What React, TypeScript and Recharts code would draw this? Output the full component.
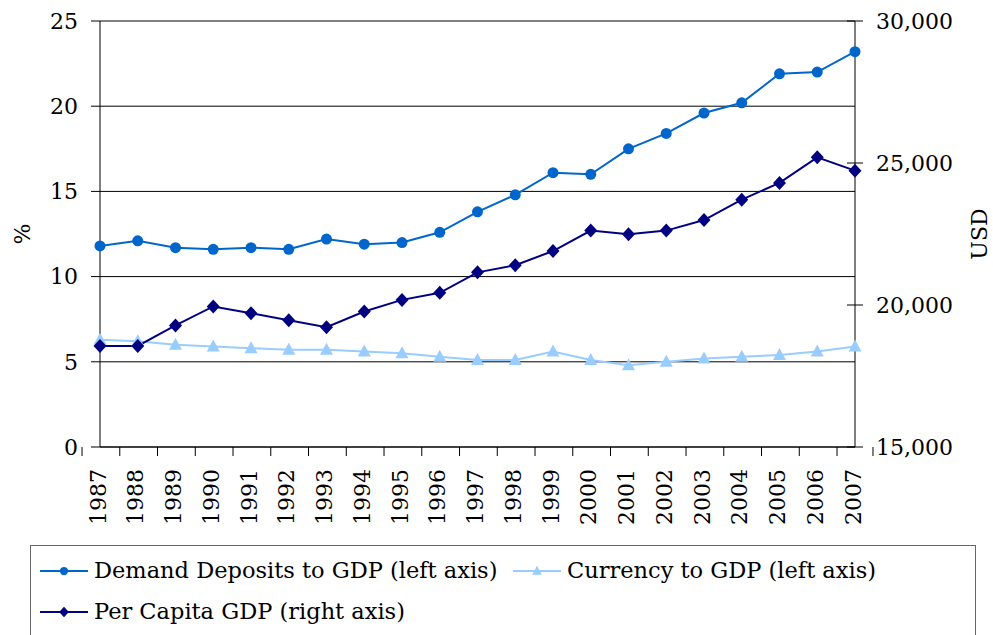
import { ComposedChart, Line, XAxis, YAxis, CartesianGrid } from "recharts";

const years = [
  "1987", "1988", "1989", "1990", "1991", "1992", "1993", "1994", "1995", "1996", "1997",
  "1998", "1999", "2000", "2001", "2002", "2003", "2004", "2005", "2006", "2007",
];
// % of GDP, left axis
const demandDeposits = [
  11.8, 12.1, 11.7, 11.6, 11.7, 11.6, 12.2, 11.9, 12.0, 12.6, 13.8,
  14.8, 16.1, 16.0, 17.5, 18.4, 19.6, 20.2, 21.9, 22.0, 23.2,
];
const currency = [
  6.3, 6.2, 6.0, 5.9, 5.8, 5.7, 5.7, 5.6, 5.5, 5.3, 5.1,
  5.1, 5.6, 5.1, 4.8, 5.0, 5.2, 5.3, 5.4, 5.6, 5.9,
];
// USD, right axis
const perCapitaGdp = [
  18560, 18560, 19280, 19950, 19710, 19460, 19220, 19770, 20180, 20430, 21150,
  21400, 21900, 22620, 22490, 22620, 22990, 23710, 24300, 25200, 24730,
];
const leftTicks = [0, 5, 10, 15, 20, 25];
const rightTicks = [15000, 20000, 25000, 30000];

const data = years.map((year, i) => ({
  year,
  demand: demandDeposits[i],
  currency: currency[i],
  gdp: perCapitaGdp[i],
}));

const FONT = "'DejaVu Serif', serif";
const FS = 22;
const LFS = 22.5;
const BAND = (855 - 100) / years.length;

const series = [
  { key: "demand", name: "Demand Deposits to GDP (left axis)", color: "#0066CC", shape: "circle" },
  { key: "currency", name: "Currency to GDP (left axis)", color: "#99CCFF", shape: "triangle" },
  { key: "gdp", name: "Per Capita GDP (right axis)", color: "#000080", shape: "diamond" },
];

function Marker({ cx, cy, shape, color, s = 1 }: any) {
  if (cx == null || cy == null) return null;
  if (shape === "circle") return <circle cx={cx} cy={cy} r={5.5 * s} fill={color} />;
  if (shape === "triangle")
    return (
      <polygon
        points={`${cx},${cy - 7 * s} ${cx - 6.5 * s},${cy + 5 * s} ${cx + 6.5 * s},${cy + 5 * s}`}
        fill={color}
      />
    );
  return (
    <polygon
      points={`${cx},${cy - 7 * s} ${cx + 6.5 * s},${cy} ${cx},${cy + 7 * s} ${cx - 6.5 * s},${cy}`}
      fill={color}
    />
  );
}

function YearTick(props: any) {
  const { x, y, payload, index } = props;
  const half = payload?.offset || BAND / 2;
  return (
    <g>
      <line x1={x - half} x2={x - half} y1={y - 22} y2={y - 13} stroke="#000" />
      {index === years.length - 1 && (
        <line x1={x + half} x2={x + half} y1={y - 22} y2={y - 13} stroke="#000" />
      )}
      <text
        x={x - 2}
        y={y}
        transform={`rotate(-90 ${x - 2} ${y})`}
        textAnchor="end"
        dominantBaseline="central"
        fontFamily={FONT}
        fontSize={FS}
        fill="#000"
      >
        {payload.value}
      </text>
    </g>
  );
}

function RightTick(props: any) {
  const { x, y, payload } = props;
  const ax = x - 21;
  return (
    <g>
      <line x1={ax - 8} x2={ax + 8} y1={y} y2={y} stroke="#000" />
      <text x={x} y={y} dominantBaseline="central" fontFamily={FONT} fontSize={FS} fill="#000">
        {Number(payload.value).toLocaleString("en-US")}
      </text>
    </g>
  );
}

function AxisTitle({ viewBox, text, x }: any) {
  const cy = viewBox.y + viewBox.height / 2;
  return (
    <text
      x={x}
      y={cy}
      transform={`rotate(-90 ${x} ${cy})`}
      textAnchor="middle"
      dominantBaseline="central"
      fontFamily={FONT}
      fontSize={FS}
      fill="#000"
    >
      {text}
    </text>
  );
}

function LegendBox() {
  const items = [
    { s: series[0], left: 9, top: 24 },
    { s: series[1], left: 482, top: 24 },
    { s: series[2], left: 9, top: 65 },
  ];
  return (
    <div
      style={{
        position: "absolute",
        left: 30,
        top: 545,
        width: 946,
        height: 120,
        border: "1px solid #666",
        boxSizing: "border-box",
        background: "#fff",
      }}
    >
      {items.map(({ s, left, top }) => (
        <div
          key={s.key}
          style={{
            position: "absolute",
            left,
            top: top - 20,
            height: 40,
            display: "flex",
            alignItems: "center",
            whiteSpace: "nowrap",
          }}
        >
          <svg width={48} height={20} style={{ display: "block" }}>
            <line x1={0} x2={48} y1={11} y2={11} stroke={s.color} strokeWidth={2} />
            <Marker cx={24} cy={11} shape={s.shape} color={s.color} s={0.75} />
          </svg>
          <span style={{ marginLeft: 6, fontFamily: FONT, fontSize: LFS, color: "#000", lineHeight: "40px" }}>
            {s.name}
          </span>
        </div>
      ))}
    </div>
  );
}

export default function App() {
  return (
    <div
      style={{
        position: "absolute",
        left: 0,
        top: 0,
        width: 993,
        height: 635,
        overflow: "hidden",
        background: "#fff",
      }}
    >
      <ComposedChart width={993} height={635} data={data} margin={{ top: 21, right: 0, bottom: 0, left: 0 }}>
        <CartesianGrid yAxisId="left" vertical={false} horizontal stroke="#000" strokeWidth={1} />
        <XAxis
          dataKey="year"
          height={188}
          axisLine={{ stroke: "#000" }}
          tickLine={false}
          tickSize={0}
          tickMargin={22}
          interval={0}
          tick={<YearTick />}
        />
        <YAxis
          yAxisId="left"
          width={100}
          domain={[0, 25]}
          ticks={leftTicks}
          axisLine={{ stroke: "#000" }}
          tickLine={{ stroke: "#000" }}
          tickSize={9}
          tickMargin={13}
          tick={{ fill: "#000", fontSize: FS, fontFamily: FONT }}
          label={{ content: (p: any) => <AxisTitle {...p} text="%" x={22} /> }}
        />
        <YAxis
          yAxisId="right"
          orientation="right"
          width={138}
          domain={[15000, 30000]}
          ticks={rightTicks}
          axisLine={{ stroke: "#000" }}
          tickLine={false}
          tickSize={0}
          tickMargin={21}
          tick={<RightTick />}
          label={{ content: (p: any) => <AxisTitle {...p} text="USD" x={979} /> }}
        />
        {series.map((s) => (
          <Line
            key={s.key}
            yAxisId={s.key === "gdp" ? "right" : "left"}
            type="linear"
            dataKey={s.key}
            name={s.name}
            stroke={s.color}
            strokeWidth={2}
            dot={(p: any) => <Marker key={`${s.key}-${p.index}`} cx={p.cx} cy={p.cy} shape={s.shape} color={s.color} />}
            activeDot={false}
            isAnimationActive={false}
          />
        ))}
      </ComposedChart>
      <LegendBox />
    </div>
  );
}
